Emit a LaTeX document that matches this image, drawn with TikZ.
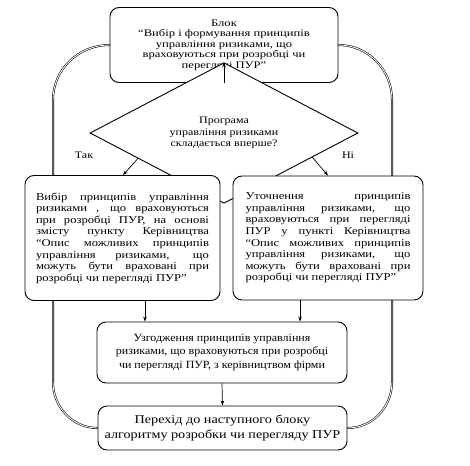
\documentclass[tikz,border=0pt]{standalone}
\usepackage{fontspec}
\setmainfont{Liberation Serif}
\newfontfamily\ftop[FakeStretch=1.26]{Liberation Serif}
\newfontfamily\fside[FakeStretch=1.2]{Liberation Serif}
\newfontfamily\fdia[FakeStretch=1.2]{Liberation Serif}
\newfontfamily\fmid[FakeStretch=1.09]{Liberation Serif}
\newfontfamily\fbot[FakeStretch=1.18]{Liberation Serif}
\usetikzlibrary{shapes.geometric,arrows.meta,calc,backgrounds}
\tikzset{
  blk/.style={draw,line width=0.9pt,rounded corners=9pt,fill=white,inner sep=0pt},
  dia/.style={draw,line width=0.9pt,diamond,fill=white,inner sep=0pt,align=center},
  arr/.style={line width=0.7pt,-{Stealth[length=5pt,width=3.5pt]}},
  lp/.style={draw=black,line width=0.55pt,double=white,double distance=0.9pt},
  jtxt/.style={text width=#1,align=justify,font=\fside\fontsize{10.5}{11.6}\selectfont},
}
\begin{document}
\begin{tikzpicture}[x=1pt,y=-1pt]
\useasboundingbox (0,0) rectangle (470,465);
\node[blk,minimum width=228pt,minimum height=75pt,align=center,font=\ftop\fontsize{10}{10.4}\selectfont] (top) at (224,45)
 {Блок\\“Вибір і формування принципів\\управління ризиками, що\\враховуються при розробці чи\\перегляді ПУР”};
\node[dia,minimum width=268pt,minimum height=84pt,font=\fdia\fontsize{10}{11.7}\selectfont] (d) at (224,133)
 {Програма\\управління ризиками\\складається вперше?};
\node[blk,minimum width=195pt,minimum height=125pt,jtxt=173pt] (l) at (122.5,238)
 {Вибір принципів управління\linebreak ризиками , що враховуються\linebreak при розробці ПУР, на основі\linebreak змісту пункту Керівництва\linebreak “Опис можливих принципів\linebreak управління ризиками, що\linebreak можуть бути враховані при\linebreak розробці чи перегляді ПУР”};
\node[blk,minimum width=190pt,minimum height=124pt,jtxt=165pt] (r) at (328,238)
 {Уточнення принципів\linebreak управління ризиками, що\linebreak враховуються при перегляді\linebreak ПУР у пункті Керівництва\linebreak “Опис можливих принципів\linebreak управління ризиками, що\linebreak можуть бути враховані при\linebreak розробці чи перегляді ПУР”};
\node[blk,minimum width=250pt,minimum height=61pt,align=center,font=\fmid\fontsize{11}{13.3}\selectfont] (m) at (222,352.5)
 {Узгодження принципів управління\\ризиками, що враховуються при розробці\\чи перегляді ПУР, з керівництвом фірми};
\node[blk,minimum width=249pt,minimum height=44pt,align=center,font=\fbot\fontsize{12}{15.5}\selectfont] (b) at (222.5,428)
 {Перехід до наступного блоку\\алгоритму розробки чи перегляду ПУР};
\node[font=\fdia\fontsize{10}{12}\selectfont] (yes) at (84,155) {Так};
\node[font=\fdia\fontsize{10}{12}\selectfont] (no) at (348,155) {Ні};
\begin{scope}[on background layer]
\coordinate (l1) at (53,100);
\coordinate (l2) at (53,382);
\coordinate (r1) at (392,100);
\coordinate (r2) at (392,382);
\draw[lp] (top.west) to[out=180,in=90] (l1) -- (l2) to[out=-90,in=180] (b.west);
\draw[lp] (top.east) to[out=0,in=90] (r1) -- (r2) to[out=-90,in=0] (b.east);
\end{scope}
\draw[arr] (top.south) -- (d.north);
\coordinate (dl) at ($(d.west)!0.36!(d.south)$);
\coordinate (dr) at ($(d.south)!0.657!(d.east)$);
\draw[arr] (dl) -- ($(l.north)+(0.5,0)$);
\draw[arr] (dr) -- ($(r.north)+(0,0)$);
\path (l.south) ++(22.5,0) coordinate (p1);
\path (r.south) ++(-28,0) coordinate (p2);
\draw[arr] (p1) -- (p1 |- m.north);
\draw[arr] (p2) -- (p2 |- m.north);
\draw[arr] (m.south) -- (b.north);
\end{tikzpicture}
\end{document}
